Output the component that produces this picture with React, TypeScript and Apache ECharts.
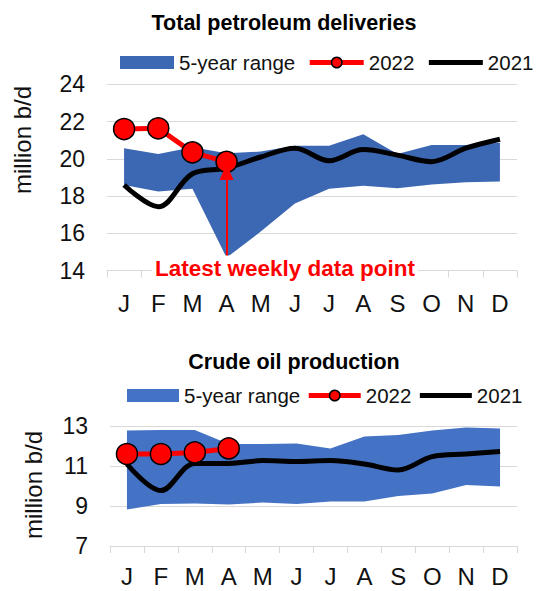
import React, { useEffect, useRef } from "react";
import * as echarts from "echarts";

const months = ["Jan", "Feb", "Mar", "Apr", "May", "Jun", "Jul", "Aug", "Sep", "Oct", "Nov", "Dec"];

// Total petroleum deliveries (million b/d)
const delivHigh = [20.57, 20.26, 20.62, 20.3, 20.39, 20.7, 20.7, 21.32, 20.26, 20.74, 20.74, 20.87];
const delivLow = [18.6, 18.25, 18.4, 14.7, 16.1, 17.6, 18.4, 18.56, 18.42, 18.63, 18.74, 18.78];
const deliv2021 = [18.6, 17.43, 19.2, 19.5, 20.1, 20.57, 19.9, 20.5, 20.2, 19.85, 20.57, 21.05];
const deliv2022 = [21.6, 21.64, 20.35, 19.84];

// Crude oil production (million b/d)
const crudeHigh = [12.77, 12.8, 12.8, 12.1, 12.1, 12.13, 11.88, 12.47, 12.55, 12.77, 12.93, 12.88];
const crudeLow = [8.83, 9.1, 9.13, 9.08, 9.17, 9.1, 9.22, 9.22, 9.5, 9.63, 10.05, 9.97];
const crude2021 = [11.1, 9.77, 11.13, 11.13, 11.27, 11.22, 11.27, 11.1, 10.8, 11.47, 11.6, 11.72];
const crude2022 = [11.6, 11.6, 11.68, 11.88];

const topTicks = { min: 14, max: 24, interval: 2 };
const bottomTicks = { min: 7, max: 13, interval: 2 };

// annotation arrow: from the 5-year low in April up to just under the latest 2022 point
const arrowMonthIndex = 3;
const arrowTipValue = 19.3;

const FONT = "Liberation Sans";
const GRID_COLOR = "#d9d9d9";
const BLUE_TOP = "#3c67b3";
const BLUE_BOTTOM = "#4472c4";

export default function App() {
  const ref = useRef<HTMLDivElement>(null);

  useEffect(() => {
    if (!ref.current) return;
    const chart = echarts.init(ref.current, null, { renderer: "svg" });

    const xAxisBase = (gridIndex: number, margin: number) => ({
      type: "category",
      gridIndex,
      data: months,
      boundaryGap: true,
      axisLine: { show: true, lineStyle: { color: GRID_COLOR, width: 1 } },
      axisTick: { show: true, interval: 0, length: 7, lineStyle: { color: GRID_COLOR } },
      axisLabel: {
        interval: 0,
        margin,
        fontSize: 24,
        fontFamily: FONT,
        color: "#111",
        formatter: (v: string) => v.charAt(0),
      },
    });

    const yAxisBase = (gridIndex: number, t: { min: number; max: number; interval: number }) => ({
      type: "value",
      gridIndex,
      min: t.min,
      max: t.max,
      interval: t.interval,
      axisLine: { show: false },
      axisTick: { show: false },
      splitLine: { show: true, lineStyle: { color: GRID_COLOR, width: 1 } },
      axisLabel: { margin: 22, fontSize: 23, fontFamily: FONT, color: "#111" },
    });

    const bandSeries = (idx: number, low: number[], high: number[], color: string) => [
      {
        name: "5-year min",
        type: "line",
        xAxisIndex: idx,
        yAxisIndex: idx,
        stack: "band" + idx,
        data: low,
        symbol: "none",
        lineStyle: { opacity: 0, width: 0 },
        silent: true,
      },
      {
        name: "5-year range",
        type: "line",
        xAxisIndex: idx,
        yAxisIndex: idx,
        stack: "band" + idx,
        data: high.map((h, i) => +(h - low[i]).toFixed(3)),
        symbol: "none",
        lineStyle: { opacity: 0, width: 0 },
        itemStyle: { color },
        areaStyle: { color, opacity: 1 },
        silent: true,
      },
    ];

    const line2021 = (idx: number, data: number[]) => ({
      name: "2021",
      type: "line",
      xAxisIndex: idx,
      yAxisIndex: idx,
      data,
      smooth: 0.35,
      symbol: "none",
      lineStyle: { color: "#000", width: 5 },
      itemStyle: { color: "#000" },
      z: 3,
    });

    const line2022 = (idx: number, data: number[], extra: any = {}) => ({
      name: "2022",
      type: "line",
      xAxisIndex: idx,
      yAxisIndex: idx,
      data,
      symbol: "circle",
      symbolSize: 21,
      lineStyle: { color: "#ff0000", width: 5 },
      itemStyle: { color: "#ff0000", borderColor: "#000", borderWidth: 1.5 },
      z: 4,
      ...extra,
    });

    const legendData = (color: string) => [
      { name: "5-year range", icon: "rect", itemStyle: { color } },
      {
        name: "2022",
        lineStyle: { width: 5, color: "#ff0000" },
        itemStyle: { color: "#ff0000", borderColor: "#000", borderWidth: 1.5 },
      },
      {
        name: "2021",
        lineStyle: { width: 5, color: "#000" },
        itemStyle: { opacity: 0 },
      },
    ];

    chart.setOption({
      animation: false,
      textStyle: { fontFamily: FONT },
      grid: [
        { left: 99, top: 76.3, right: 24, height: 186.4 },
        { left: 102, top: 418, right: 24, height: 120 },
      ],
      legend: [
        {
          left: 112,
          top: 44,
          width: 430,
          padding: 0,
          itemWidth: 54,
          itemHeight: 13,
          itemGap: 12,
          data: legendData(BLUE_TOP),
          textStyle: { fontSize: 20.5, fontFamily: FONT, color: "#111" },
          selectedMode: false,
        },
        {
          left: 119,
          top: 377,
          width: 430,
          padding: 0,
          itemWidth: 52,
          itemHeight: 13,
          itemGap: 6,
          data: legendData(BLUE_BOTTOM),
          textStyle: { fontSize: 20.5, fontFamily: FONT, color: "#111" },
          selectedMode: false,
        },
      ],
      xAxis: [xAxisBase(0, 21), xAxisBase(1, 18)],
      yAxis: [yAxisBase(0, topTicks), yAxisBase(1, bottomTicks)],
      series: [
        ...bandSeries(0, delivLow, delivHigh, BLUE_TOP),
        line2021(0, deliv2021),
        line2022(0, deliv2022, {
          markLine: {
            silent: true,
            symbol: ["none", "triangle"],
            symbolSize: [14, 16],
            lineStyle: { color: "#ff0000", width: 2, type: "solid" },
            label: { show: false },
            data: [
              [
                { coord: [arrowMonthIndex, delivLow[arrowMonthIndex]] },
                { coord: [arrowMonthIndex, arrowTipValue] },
              ],
            ],
          },
        }),
        ...bandSeries(1, crudeLow, crudeHigh, BLUE_BOTTOM),
        line2021(1, crude2021),
        line2022(1, crude2022),
      ],
      graphic: [
        {
          type: "text",
          x: 276,
          y: 15,
          style: {
            text: "Total petroleum deliveries",
            font: `bold 21.5px "${FONT}"`,
            fill: "#000",
            align: "center",
            verticalAlign: "middle",
            textAlign: "center",
            textVerticalAlign: "middle",
          },
        },
        {
          type: "text",
          x: 286,
          y: 354,
          style: {
            text: "Crude oil production",
            font: `bold 21.5px "${FONT}"`,
            fill: "#000",
            align: "center",
            verticalAlign: "middle",
            textAlign: "center",
            textVerticalAlign: "middle",
          },
        },
        {
          type: "text",
          x: 14,
          y: 132,
          rotation: Math.PI / 2,
          style: {
            text: "million b/d",
            font: `24px "${FONT}"`,
            fill: "#111",
            align: "center",
            verticalAlign: "middle",
            textAlign: "center",
            textVerticalAlign: "middle",
          },
        },
        {
          type: "text",
          x: 25,
          y: 477,
          rotation: Math.PI / 2,
          style: {
            text: "million b/d",
            font: `24px "${FONT}"`,
            fill: "#111",
            align: "center",
            verticalAlign: "middle",
            textAlign: "center",
            textVerticalAlign: "middle",
          },
        },
        {
          type: "text",
          x: 277,
          y: 260,
          z: 100,
          style: {
            text: "Latest weekly data point",
            font: `bold 22.5px "${FONT}"`,
            fill: "#ff0000",
            align: "center",
            verticalAlign: "middle",
            textAlign: "center",
            textVerticalAlign: "middle",
            backgroundColor: "#fff",
            padding: [1, 3],
          },
        },
      ],
    });

    return () => chart.dispose();
  }, []);

  return <div ref={ref} style={{ width: 533, height: 583 }} />;
}
